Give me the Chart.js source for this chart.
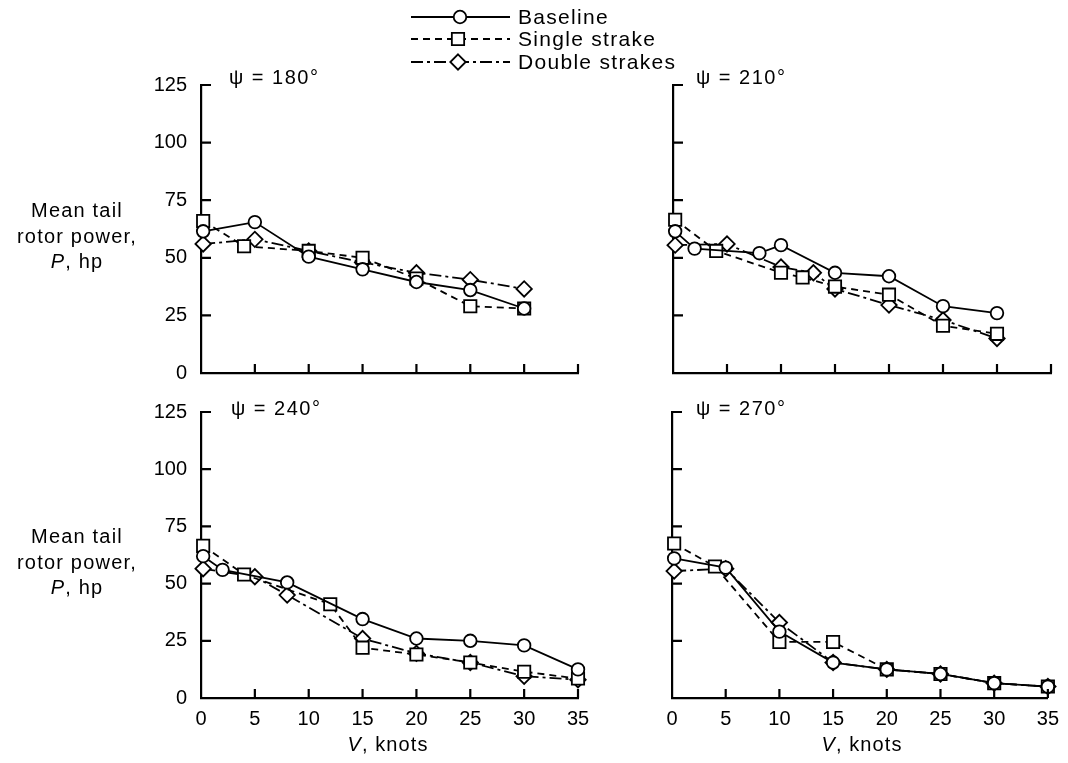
<!DOCTYPE html>
<html>
<head>
<meta charset="utf-8">
<script src="https://cdn.jsdelivr.net/npm/chart.js@4.4.1/dist/chart.umd.min.js"></script>
<style>
body { margin: 0; background: #fff; }
#wrap { position: relative; width: 1068px; height: 763px; font-family: 'Liberation Sans', Arial, sans-serif; color: #000; }
canvas { position: absolute; left: 0; top: 0; }
.lbl { position: absolute; font-size: 20px; line-height: 24px; white-space: nowrap; letter-spacing: 1.5px; }
.leg { position: absolute; font-size: 21px; line-height: 24px; white-space: nowrap; letter-spacing: 1.3px; }
.ytitle { position: absolute; width: 170px; text-align: center; font-size: 20px; line-height: 25.5px; letter-spacing: 1.2px; }
.xtitle { position: absolute; width: 200px; text-align: center; font-size: 20px; line-height: 24px; letter-spacing: 1.1px; }
</style>
</head>
<body>
<div id="wrap">
  <canvas id="c180" width="1068" height="763"></canvas>
  <canvas id="c210" width="1068" height="763"></canvas>
  <canvas id="c240" width="1068" height="763"></canvas>
  <canvas id="c270" width="1068" height="763"></canvas>

  <div class="leg" style="left:518px; top:5px;">Baseline</div>
  <div class="leg" style="left:518px; top:27px;">Single strake</div>
  <div class="leg" style="left:518px; top:50px;">Double strakes</div>

  <div class="lbl" style="left:229px; top:65px;">&psi; = 180&deg;</div>
  <div class="lbl" style="left:696px; top:65px;">&psi; = 210&deg;</div>
  <div class="lbl" style="left:231px; top:396px;">&psi; = 240&deg;</div>
  <div class="lbl" style="left:696px; top:396px;">&psi; = 270&deg;</div>

  <div class="ytitle" style="left:-8px; top:198px;">Mean tail<br>rotor power,<br><i>P</i>, hp</div>
  <div class="ytitle" style="left:-8px; top:524px;">Mean tail<br>rotor power,<br><i>P</i>, hp</div>

  <div class="xtitle" style="left:288px; top:732px;"><i>V</i>, knots</div>
  <div class="xtitle" style="left:762px; top:732px;"><i>V</i>, knots</div>
</div>
<script>
// psi = 180 deg
const psi180BaseV = [0.2, 5, 10, 15, 20, 25, 30];
const psi180BaseP = [61.5, 65.5, 50.5, 45, 39.5, 36, 28];
const psi180SingleV = [0.2, 4, 10, 15, 20, 25, 30];
const psi180SingleP = [66, 55, 53, 50, 41, 29, 28];
const psi180DoubleV = [0.2, 5, 10, 15, 20, 25, 30];
const psi180DoubleP = [56, 58, 53, 48, 43.5, 40.5, 36.5];

// psi = 210 deg
const psi210BaseV = [0.2, 2, 8, 10, 15, 20, 25, 30];
const psi210BaseP = [61.5, 54, 52, 55.5, 43.5, 42, 29, 26];
const psi210SingleV = [0.2, 4, 10, 12, 15, 20, 25, 30];
const psi210SingleP = [66.5, 53, 43.5, 41.5, 37.5, 34, 20.5, 17];
const psi210DoubleV = [0.2, 5, 10, 13, 15, 20, 25, 30];
const psi210DoubleP = [55.5, 56, 46, 43.5, 36.5, 29.5, 23, 15];

// psi = 240 deg
const psi240BaseV = [0.2, 2, 8, 15, 20, 25, 30, 35];
const psi240BaseP = [62, 56, 50.5, 34.5, 26, 25, 23, 12.5];
const psi240SingleV = [0.2, 4, 12, 15, 20, 25, 30, 35];
const psi240SingleP = [66.5, 54, 41, 22, 19, 15.5, 11.5, 8.5];
const psi240DoubleV = [0.2, 5, 8, 15, 20, 25, 30, 35];
const psi240DoubleP = [56.5, 53, 45, 26, 19.5, 15.5, 9.5, 8];

// psi = 270 deg
const psi270BaseV = [0.2, 5, 10, 15, 20, 25, 30, 35];
const psi270BaseP = [61, 57, 29, 15.5, 12.5, 10.5, 6.5, 5];
const psi270SingleV = [0.2, 4, 10, 15, 20, 25, 30, 35];
const psi270SingleP = [67.5, 57.5, 24.5, 24.5, 12.5, 10.5, 6.5, 5];
const psi270DoubleV = [0.2, 5, 10, 15, 20, 25, 30, 35];
const psi270DoubleP = [55.5, 56.5, 33, 15.5, 12.5, 10.5, 6.5, 5];

const seriesNames = ['Baseline', 'Single strake', 'Double strakes'];
const yTicks = [0, 25, 50, 75, 100, 125];
const xTicks = [0, 5, 10, 15, 20, 25, 30, 35];

const W = 1068, H = 763;
const FONT = "'Liberation Sans', Arial, sans-serif";
const LW = 1.8;

function pts(v, p) {
    return v.map(function (x, i) { return {x: x, y: p[i]}; });
}

const styles = [
    {dash: [], point: 'circle', r: 6.3},
    {dash: [7, 5], point: 'rect', r: 8.7},
    {dash: [12, 4, 3, 4], point: 'rectRot', r: 7.7}
];

function dataset(i, v, p) {
    const s = styles[i];
    return {
        label: seriesNames[i],
        data: pts(v, p),
        borderColor: '#000',
        borderWidth: LW,
        borderDash: s.dash,
        pointStyle: s.point,
        pointRadius: s.r,
        pointBackgroundColor: '#fff',
        pointBorderColor: '#000',
        pointBorderWidth: LW,
        tension: 0,
        fill: false,
        clip: false
    };
}

// tick marks pointing into the plot
const innerTicks = {
    id: 'innerTicks',
    afterDraw(chart) {
        const ctx = chart.ctx, a = chart.chartArea;
        const x = chart.scales.x, y = chart.scales.y;
        ctx.save();
        ctx.strokeStyle = '#000';
        ctx.lineWidth = 2.2;
        ctx.beginPath();
        x.ticks.forEach(function (t) {
            if (t.value === 0) return;
            const px = x.getPixelForValue(t.value);
            ctx.moveTo(px, a.bottom);
            ctx.lineTo(px, a.bottom - 9);
        });
        y.ticks.forEach(function (t) {
            if (t.value === 0) return;
            const py = y.getPixelForValue(t.value);
            ctx.moveTo(a.left, py);
            ctx.lineTo(a.left + 10, py);
        });
        ctx.stroke();
        ctx.restore();
    }
};

// legend line samples with markers
const legendSamples = {
    id: 'legendSamples',
    afterDraw(chart) {
        const ctx = chart.ctx;
        const rows = [17, 39, 62];
        ctx.save();
        ctx.strokeStyle = '#000';
        ctx.fillStyle = '#fff';
        ctx.lineWidth = LW;
        rows.forEach(function (ry, i) {
            const s = styles[i];
            const mx = i === 0 ? 460 : 458;
            ctx.setLineDash(s.dash);
            ctx.beginPath();
            ctx.moveTo(411, ry);
            ctx.lineTo(510, ry);
            ctx.stroke();
            ctx.setLineDash([]);
            ctx.beginPath();
            if (s.point === 'circle') {
                ctx.arc(mx, ry, s.r, 0, Math.PI * 2);
            } else if (s.point === 'rect') {
                const h = s.r * Math.SQRT1_2;
                ctx.rect(mx - h, ry - h, 2 * h, 2 * h);
            } else {
                ctx.moveTo(mx, ry - s.r);
                ctx.lineTo(mx + s.r, ry);
                ctx.lineTo(mx, ry + s.r);
                ctx.lineTo(mx - s.r, ry);
                ctx.closePath();
            }
            ctx.fill();
            ctx.stroke();
        });
        ctx.restore();
    }
};

function makePanel(id, series, area, showY, showX, extra) {
    const yw = showY ? 70 : 10;
    const xh = showX ? 30 : 10;
    const plugins = [innerTicks];
    if (extra) plugins.push(extra);
    return new Chart(document.getElementById(id).getContext('2d'), {
        type: 'line',
        data: {
            datasets: series.map(function (s, i) { return dataset(i, s[0], s[1]); })
        },
        options: {
            responsive: false,
            animation: false,
            events: [],
            layout: {
                padding: {
                    left: area.left - yw,
                    right: W - area.right,
                    top: area.top,
                    bottom: H - area.bottom - xh
                }
            },
            plugins: {
                legend: {display: false},
                tooltip: {enabled: false}
            },
            scales: {
                x: {
                    type: 'linear',
                    min: 0,
                    max: 35,
                    afterFit: function (s) { s.height = xh; },
                    afterBuildTicks: function (s) { s.ticks = xTicks.map(function (v) { return {value: v}; }); },
                    grid: {display: true, drawOnChartArea: false, drawTicks: false},
                    border: {display: true, color: '#000', width: 2.2},
                    ticks: {display: showX, color: '#000', padding: 9, maxRotation: 0,
                        font: {family: FONT, size: 20}}
                },
                y: {
                    min: 0,
                    max: 125,
                    afterFit: function (s) { s.width = yw; },
                    afterBuildTicks: function (s) { s.ticks = yTicks.map(function (v) { return {value: v}; }); },
                    grid: {display: true, drawOnChartArea: false, drawTicks: false},
                    border: {display: true, color: '#000', width: 2.2},
                    ticks: {display: showY, color: '#000', padding: 14,
                        font: {family: FONT, size: 20}}
                }
            }
        },
        plugins: plugins
    });
}

makePanel('c180', [[psi180BaseV, psi180BaseP], [psi180SingleV, psi180SingleP], [psi180DoubleV, psi180DoubleP]],
    {left: 201, right: 578, top: 85, bottom: 373}, true, false, legendSamples);
makePanel('c210', [[psi210BaseV, psi210BaseP], [psi210SingleV, psi210SingleP], [psi210DoubleV, psi210DoubleP]],
    {left: 673, right: 1051, top: 85, bottom: 373}, false, false);
makePanel('c240', [[psi240BaseV, psi240BaseP], [psi240SingleV, psi240SingleP], [psi240DoubleV, psi240DoubleP]],
    {left: 201, right: 578, top: 412, bottom: 698}, true, true);
makePanel('c270', [[psi270BaseV, psi270BaseP], [psi270SingleV, psi270SingleP], [psi270DoubleV, psi270DoubleP]],
    {left: 672, right: 1051, top: 412, bottom: 698}, false, true);
</script>
</body>
</html>
